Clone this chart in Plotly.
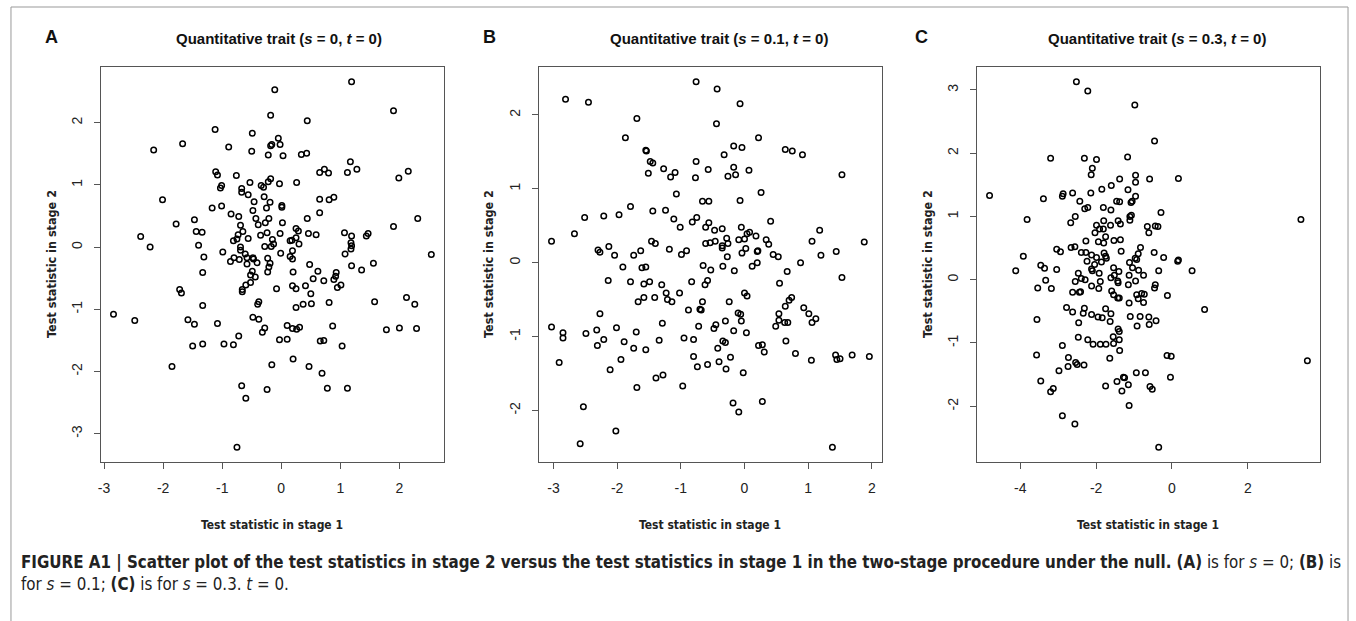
import plotly.graph_objects as go

# ---------------- data ----------------
a_x = [1.19, -0.11, 1.90, -0.18, 0.44, -1.12, -0.49, -0.05, -2.16, -1.67, -0.89, -0.18, -0.16, -0.02, -0.50,
       -0.22, 0.03, 0.34, 0.43, 1.17, -1.11, -1.08, -0.76, 0.65, 0.73, 0.80, 1.12, 1.28, 2.15, 1.99,
       -0.53, -0.34, -0.30, -0.22, -0.18, -0.03, 0.26, -1.01, -1.03, -0.67, -0.67, -0.56, -2.01, -0.29, -0.46,
       -0.19, 0.01, 0.01, -0.25, -1.17, -1.01, 0.65, 0.81, 0.89, -0.48, 0.65, -0.85, -0.72, 0.44, 2.31,
       -0.43, -0.21, -1.47, -1.78, -0.69, -0.39, -0.27, 0.02, 1.90, 0.25, 0.29, -1.44, -1.34, -0.65, -0.73,
       -0.35, -0.24, -0.02, 0.46, 0.59, 1.07, 1.19, 1.47, 1.44, -2.38, -2.22, -1.40, 2.54, -0.81, -0.56,
       0.15, 0.18, 0.25, 0.30, -0.28, -0.17, -0.15, -0.13, 1.18, 1.19, 1.18, 1.08, -0.75, -0.69, -0.69,
       -0.61, -0.58, -0.80, -0.86, -0.71, -0.58, -0.48, -0.47, -0.41, -0.49, -0.52, -0.44, -0.23, -0.19, -0.21,
       -0.23, -0.01, 0.19, 0.15, 0.19, 0.20, 0.48, 0.62, 0.54, 0.72, 0.93, 0.92, 0.89, 1.19, 1.36,
       1.56, -1.31, -1.33, -0.99, -0.52, -0.60, -0.66, -0.66, -1.72, -1.69, -0.08, 0.19, 0.25, 0.41, 1.01,
       0.95, 0.50, 1.58, 2.12, 2.26, -1.33, -0.38, -0.40, 0.37, 0.51, 0.25, 0.81, -2.84, -2.48, -1.58,
       -1.47, -1.08, -0.48, -0.38, -0.28, -0.32, 0.10, 0.19, 0.26, 0.31, 0.87, 1.78, 2.00, 2.29, -1.50,
       -1.33, -0.97, -0.81, -0.72, -0.03, 0.10, 0.66, 0.72, 1.03, -1.85, -0.16, 0.20, 0.47, 0.69, -0.67,
       -0.60, -0.24, 0.78, 1.12, -0.75]
a_y = [2.66, 2.53, 2.19, 2.12, 2.03, 1.89, 1.83, 1.75, 1.56, 1.66, 1.61, 1.63, 1.65, 1.65, 1.54,
       1.48, 1.47, 1.49, 1.51, 1.37, 1.21, 1.16, 1.15, 1.20, 1.25, 1.19, 1.20, 1.25, 1.22, 1.11,
       1.04, 0.99, 0.96, 1.05, 1.10, 1.02, 1.04, 0.99, 0.95, 0.94, 0.88, 0.84, 0.76, 0.81, 0.73,
       0.72, 0.67, 0.64, 0.63, 0.63, 0.66, 0.77, 0.76, 0.80, 0.59, 0.55, 0.53, 0.49, 0.46, 0.46,
       0.46, 0.46, 0.44, 0.37, 0.35, 0.36, 0.39, 0.39, 0.33, 0.30, 0.26, 0.25, 0.24, 0.25, 0.20,
       0.19, 0.23, 0.22, 0.22, 0.20, 0.23, 0.18, 0.22, 0.18, 0.17, 0.00, 0.03, -0.12, 0.10, 0.14,
       0.10, 0.11, 0.15, 0.05, 0.01, 0.01, 0.12, 0.05, 0.07, 0.02, -0.03, -0.11, 0.13, 0.00, -0.05,
       -0.11, -0.17, -0.17, -0.23, -0.20, -0.27, -0.17, -0.19, -0.25, -0.39, -0.45, -0.48, -0.18, -0.26, -0.32,
       -0.40, -0.10, -0.06, -0.15, -0.19, -0.40, -0.28, -0.39, -0.51, -0.54, -0.41, -0.47, -0.52, -0.30, -0.37,
       -0.26, -0.16, -0.41, -0.08, -0.57, -0.61, -0.68, -0.72, -0.68, -0.74, -0.67, -0.62, -0.67, -0.62, -0.61,
       -0.65, -0.75, -0.88, -0.81, -0.92, -0.94, -0.88, -0.92, -0.92, -0.91, -0.97, -0.89, -1.08, -1.18, -1.17,
       -1.24, -1.23, -1.13, -1.16, -1.30, -1.37, -1.26, -1.31, -1.32, -1.29, -1.27, -1.33, -1.30, -1.31, -1.59,
       -1.56, -1.56, -1.57, -1.43, -1.49, -1.48, -1.51, -1.50, -1.59, -1.92, -1.89, -1.80, -1.92, -2.03, -2.23,
       -2.43, -2.29, -2.27, -2.27, -3.22]

b_x = [-0.76, -0.43, -2.81, -2.45, -0.07, -1.69, -0.44, -1.87, 0.22, -1.55, -1.54, -1.48, -1.44, -0.76, -0.17,
       -0.04, -0.32, 0.64, 0.75, 0.91, -1.27, -1.09, -1.16, -1.51, -0.77, -0.57, -0.17, -0.14, -0.26, 0.07,
       1.53, -1.07, 0.26, -0.66, -0.56, -0.07, -1.79, -1.44, -1.24, -2.51, -2.21, -1.97, -2.67, -1.11, -1.01,
       -0.82, -0.75, -0.61, -0.56, -0.47, -0.35, -0.05, 0.04, 0.08, -0.09, 0.00, 0.18, 0.41, 0.34, 0.38,
       1.18, 1.06, 1.88, -3.03, -1.46, -1.40, -0.61, -0.54, -0.46, -0.28, -0.26, -0.35, -0.35, -2.30, -2.27,
       -2.13, -2.04, -1.74, -1.63, -1.18, -0.99, -0.91, -0.04, 0.02, -0.27, 0.20, 0.21, 0.45, 0.53, 1.20,
       1.44, 0.88,
       -1.91, -1.61, -1.55, -0.65, -0.53, -0.34, -0.16, 0.12, 0.20, 0.67, 1.53, -2.14, -1.79, -1.58, -1.49,
       -1.30, -0.83, -0.62, -0.58, 0.55, -1.58, -1.67, -1.41, -1.23, -1.21, -1.14, -1.02, -0.66, -0.24, 0.00,
       0.04, 0.70, 0.64, 0.74, 0.93, 1.01, 1.12, 1.06, -2.27, -0.88, -0.70, -0.68, -0.10, -0.06, 0.54,
       0.54, 0.63, 0.68, -3.03, -2.85, -2.85, -2.49, -2.32, -2.31, -2.21, -2.01, -1.89, -1.70, -1.74, -1.55,
       -1.29, -1.34, -0.95, -0.80, -0.72, -0.48, -0.45, -0.30, -0.17, -0.05, 0.03, -0.34, -0.30, -0.42, 0.22,
       0.28, 0.31, 0.49, 0.65, 0.80, 1.05, 1.43, 1.45, 1.50, 1.69, 1.96, -2.91, -2.11, -1.94, -0.80,
       -0.74, -0.58, -0.40, -0.29, -0.22, -0.02, -1.39, -1.28, -1.69, -0.97, -2.53, -0.18, -0.09, 0.28, -2.02,
       -2.58, 1.38]
b_y = [2.45, 2.35, 2.21, 2.17, 2.15, 1.95, 1.88, 1.69, 1.69, 1.52, 1.51, 1.37, 1.35, 1.37, 1.58,
       1.56, 1.46, 1.53, 1.51, 1.46, 1.27, 1.22, 1.16, 1.21, 1.15, 1.26, 1.29, 1.19, 1.17, 1.25,
       1.19, 0.93, 0.95, 0.83, 0.83, 0.84, 0.76, 0.70, 0.71, 0.61, 0.63, 0.65, 0.39, 0.59, 0.48,
       0.55, 0.61, 0.48, 0.54, 0.44, 0.46, 0.48, 0.39, 0.41, 0.31, 0.32, 0.36, 0.56, 0.31, 0.25,
       0.44, 0.29, 0.28, 0.29, 0.29, 0.26, 0.26, 0.27, 0.29, 0.33, 0.26, 0.23, 0.20, 0.17, 0.14,
       0.22, 0.10, 0.10, 0.16, 0.18, 0.11, 0.16, 0.13, 0.19, 0.08, 0.15, 0.16, 0.11, 0.08, 0.10,
       0.15, 0.00,
       -0.06, -0.07, -0.06, -0.04, -0.10, -0.05, -0.11, -0.05, 0.00, -0.12, -0.20, -0.24, -0.26, -0.29, -0.26,
       -0.30, -0.26, -0.30, -0.24, -0.28, -0.47, -0.53, -0.47, -0.41, -0.50, -0.53, -0.41, -0.53, -0.53, -0.41,
       -0.45, -0.51, -0.59, -0.47, -0.61, -0.69, -0.76, -0.81, -0.69, -0.64, -0.63, -0.64, -0.68, -0.70, -0.69,
       -0.78, -0.81, -0.81, -0.87, -0.95, -1.02, -0.96, -0.91, -1.12, -1.04, -0.88, -1.07, -0.94, -1.16, -1.18,
       -0.82, -1.05, -1.02, -1.04, -0.86, -0.89, -0.84, -0.79, -0.92, -0.79, -0.95, -1.06, -1.08, -1.16, -1.12,
       -1.11, -1.21, -0.86, -1.06, -1.23, -1.32, -1.25, -1.31, -1.30, -1.25, -1.27, -1.35, -1.45, -1.31, -1.27,
       -1.41, -1.38, -1.34, -1.44, -1.28, -1.49, -1.56, -1.52, -1.69, -1.67, -1.95, -1.90, -2.02, -1.88, -2.28,
       -2.45, -2.50]

c_x = [-2.52, -2.22, -0.98, -0.46, -3.20, -2.31, -1.99, -1.17, -2.10, -2.13, -0.96, -0.96, -1.38, -0.59, 0.17,
       -1.60, -1.85, -1.16, -4.81, -3.39, -2.89, -2.87, -2.62, -2.14, -0.96, -2.43, -1.46, -1.38, -1.08, -1.05,
       -2.30, -2.22, -1.81, -1.61, -0.29, -2.55, -2.67, -3.82, -1.11, -1.07, -1.11, -1.80, -1.99, -1.91, -1.81,
       -1.62, -1.42, -1.36, -2.03, -1.75, -0.61, -0.65, -0.44, -0.37, -2.27, -1.94, -1.80, -1.53, -1.36, 3.40,
       -3.04, -2.94, -2.66, -2.56, -2.39, -2.27, -2.12, -1.99, -1.79, -1.75, -1.73, -1.34, -0.83, -0.47, -0.22,
       -0.89, -0.97, -0.93, -1.12, -3.92, -3.46, -3.36, -3.04, 0.17, 0.15, 0.53, -4.12,
       -2.12, -2.10, -2.04, -1.92, -1.86, -2.24, -1.61, -1.52, -1.43, -1.42, -1.54, -1.40, -1.13, -1.15, -0.96,
       -1.04, -0.88, -0.75, -0.44, -0.46, -0.35, -0.12, 0.86, -2.55, -2.39, -2.29, -2.47, -1.89,
       -3.33, -3.54, -3.18, -2.78, -2.62, -2.31, -2.34, -2.46, -3.56, -2.62, -2.41, -2.44, -2.12, -1.93, -2.12,
       -1.95, -1.84, -1.75, -1.61, -1.63, -1.59, -1.54, -1.43, -1.39, -1.13, -0.93, -0.80, -0.75, -0.73, -0.89,
       -1.10, -0.84, -0.92, -0.61, -0.60, -0.42, -2.47, -2.22, -2.08, -1.89, -1.74, -2.89, -1.55, -1.54, -1.42,
       -1.39, -1.39, -1.38, -1.64, -2.73, -3.57, -2.54, -2.50, -2.32, -2.74, -2.98, -3.46, -3.13, -3.20, -1.75,
       -1.45, -1.25, -1.28, -1.15, -1.32, -1.13, -0.94, -0.70, -0.58, -0.52, -0.13, -0.02, -0.04, -2.89, -2.56,
       -0.35, 3.57]
c_y = [3.13, 2.98, 2.76, 2.19, 1.92, 1.92, 1.90, 1.94, 1.76, 1.66, 1.65, 1.54, 1.59, 1.59, 1.60,
       1.49, 1.43, 1.42, 1.33, 1.28, 1.32, 1.36, 1.37, 1.37, 1.32, 1.24, 1.24, 1.23, 1.22, 1.24,
       1.12, 1.14, 1.14, 1.10, 1.06, 1.00, 0.90, 0.95, 1.00, 1.02, 0.94, 0.93, 0.86, 0.80, 0.80,
       0.86, 0.93, 0.88, 0.74, 0.68, 0.74, 0.84, 0.85, 0.84, 0.61, 0.60, 0.58, 0.62, 0.63, 0.95,
       0.48, 0.44, 0.51, 0.52, 0.43, 0.43, 0.39, 0.35, 0.42, 0.37, 0.34, 0.45, 0.51, 0.43, 0.35,
       0.41, 0.34, 0.32, 0.27, 0.37, 0.23, 0.18, 0.16, 0.31, 0.29, 0.14, 0.14,
       0.17, 0.14, 0.24, 0.10, 0.28, 0.29, 0.03, 0.07, -0.02, -0.05, 0.19, 0.13, 0.07, -0.08, -0.02,
       0.19, 0.15, 0.07, -0.08, -0.13, 0.14, -0.25, -0.47, -0.03, 0.02, 0.00, 0.10, -0.03,
       -0.01, -0.13, -0.14, -0.44, -0.51, -0.45, -0.53, -0.68, -0.63, -0.20, -0.19, -0.20, -0.10, -0.14, -0.55,
       -0.59, -0.60, -0.46, -0.54, -0.66, -0.18, -0.24, -0.29, -0.29, -0.37, -0.24, -0.22, -0.36, -0.23, -0.30,
       -0.58, -0.58, -0.73, -0.59, -0.71, -0.65, -0.91, -0.95, -1.02, -1.02, -1.02, -1.04, -0.90, -1.01, -0.78,
       -0.82, -0.95, -1.12, -1.24, -1.23, -1.19, -1.31, -1.34, -1.35, -1.37, -1.44, -1.60, -1.72, -1.77, -1.68,
       -1.61, -1.55, -1.54, -1.66, -1.76, -1.99, -1.47, -1.47, -1.69, -1.73, -1.20, -1.21, -1.54, -2.15, -2.28,
       -2.65, -1.28]

a_xticks = [-3, -2, -1, 0, 1, 2]
a_yticks = [-3, -2, -1, 0, 1, 2]
b_xticks = [-3, -2, -1, 0, 1, 2]
b_yticks = [-2, -1, 0, 1, 2]
c_xticks = [-4, -2, 0, 2]
c_yticks = [-2, -1, 0, 1, 2, 3]

letters = ["A", "B", "C"]
titles = ["Quantitative trait (<i>s</i> = 0, <i>t</i> = 0)",
          "Quantitative trait (<i>s</i> = 0.1, <i>t</i> = 0)",
          "Quantitative trait (<i>s</i> = 0.3, <i>t</i> = 0)"]
x_title = "Test statistic in stage 1"
y_title = "Test statistic in stage 2"
caption = ("<b>FIGURE A1 | Scatter plot of the test statistics in stage 2 versus the test statistics in stage 1 "
           "in the two-stage procedure under the null. (A)</b> is for <i>s</i> = 0; <b>(B)</b> is<br>"
           "for <i>s</i> = 0.1; <b>(C)</b> is for <i>s</i> = 0.3. <i>t</i> = 0.")

# ---------------- layout geometry (pixels) ----------------
W, H = 1356, 621
def fx(px):
    return px / W
def fy(py):
    return 1 - py / H

boxes = [(98, 442), (537, 881), (976, 1320)]
box_top, box_bot = 67, 462
title_cx = [277, 718, 1157]
letter_cx = [49, 488, 921]
ytitle_cx = [48, 486, 926]

def padded(vals):
    lo, hi = min(vals), max(vals)
    s = hi - lo
    return [lo - 0.04 * s, hi + 0.04 * s]

data_sets = [(a_x, a_y, a_xticks, a_yticks), (b_x, b_y, b_xticks, b_yticks), (c_x, c_y, c_xticks, c_yticks)]

SANS = "Liberation Sans, Arial, sans-serif"
NARROW = "Liberation Sans Narrow, DejaVu Sans Condensed, sans-serif"

fig = go.Figure()
TICKFONT = dict(family=SANS, size=14, color="#222")
annotations = []
for i, (xs, ys, xt, yt) in enumerate(data_sets):
    n = "" if i == 0 else str(i + 1)
    fig.add_trace(go.Scatter(
        x=xs, y=ys, mode="markers", xaxis="x" + n, yaxis="y" + n, showlegend=False,
        marker=dict(symbol="circle-open", size=5.5, color="black", line=dict(width=1.5, color="black")),
        hoverinfo="x+y"))
    l, r = boxes[i]
    axcommon = dict(showline=True, mirror=True, linecolor="#555", linewidth=1, showgrid=False,
                    zeroline=False, ticks="outside", ticklen=6, tickcolor="#555", tickwidth=1,
                    tickfont=TICKFONT)
    fig.layout["xaxis" + n] = dict(domain=[fx(l), fx(r)], anchor="y" + n, range=padded(xs),
                                   tickvals=xt, ticktext=[str(v) for v in xt],
                                   ticklabelstandoff=7, **axcommon)
    fig.layout["yaxis" + n] = dict(domain=[fy(box_bot), fy(box_top)], anchor="x" + n, range=padded(ys),
                                   tickvals=yt, ticktext=[str(v) for v in yt], tickangle=-90,
                                   ticklabelstandoff=6, **axcommon)
    annotations.append(dict(text="<b>" + titles[i] + "</b>", x=fx(title_cx[i]), y=fy(38), xref="paper",
                            yref="paper", showarrow=False, xanchor="center", yanchor="middle",
                            font=dict(family=SANS, size=15, color="#111")))
    annotations.append(dict(text="<b>" + letters[i] + "</b>", x=fx(letter_cx[i]), y=fy(37), xref="paper",
                            yref="paper", showarrow=False, xanchor="center", yanchor="middle",
                            font=dict(family=SANS, size=18, color="#111")))
    annotations.append(dict(text="<b>" + x_title + "</b>", x=fx((l + r) / 2), y=fy(525), xref="paper",
                            yref="paper", showarrow=False, xanchor="center", yanchor="middle",
                            font=dict(family=NARROW, size=12, color="#222")))
    annotations.append(dict(text="<b>" + y_title + "</b>", x=fx(ytitle_cx[i]), y=fy(264),
                            xref="paper", yref="paper", showarrow=False, textangle=-90,
                            xanchor="center", yanchor="middle",
                            font=dict(family=NARROW, size=12.5, color="#222")))

annotations.append(dict(text=caption, x=fx(16), y=fy(550), xref="paper", yref="paper", showarrow=False,
                        xanchor="left", yanchor="top", align="left",
                        font=dict(family=NARROW, size=16.8, color="#222")))

fig.update_layout(
    width=W, height=H, margin=dict(l=0, r=0, t=0, b=0),
    paper_bgcolor="white", plot_bgcolor="white",
    annotations=annotations,
    shapes=[dict(type="rect", xref="paper", yref="paper", x0=fx(8), x1=fx(1348), y0=-0.02, y1=fy(7),
                 line=dict(color="#999", width=1), fillcolor="rgba(0,0,0,0)", layer="below")],
)

fig.write_html("out.html", config={"displayModeBar": False},
               post_script="document.body.style.margin='0px';document.body.style.overflow='hidden';")
